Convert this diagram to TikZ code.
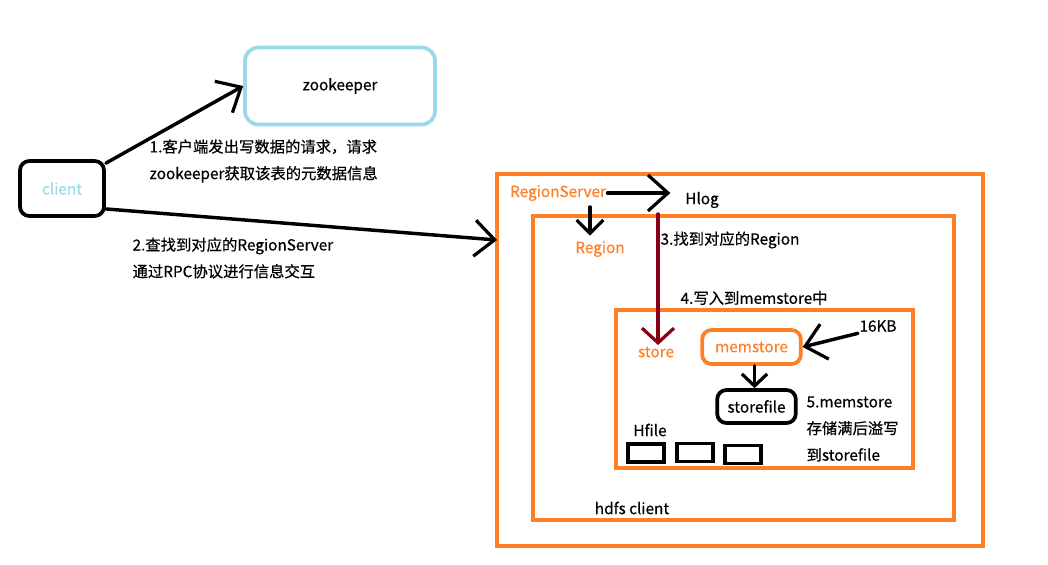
\documentclass[tikz,border=0pt]{standalone}
\usepackage{fontspec}
\setmainfont{Noto Sans CJK SC}[FakeBold=0.5]
\usepackage{xcolor}
\usepackage{tikz}
\usetikzlibrary{arrows.meta}
\definecolor{hborange}{RGB}{255,127,39}
\definecolor{hbblue}{RGB}{153,217,234}
\definecolor{hbred}{RGB}{136,0,21}
\tikzset{
    every node/.style={font=\fontsize{11.5}{14}\selectfont, inner sep=1pt},
    arr/.style={-{Straight Barb[length=15pt,width=27pt,line width=2.4pt]}, line width=2.6pt, line cap=round},
    rbox/.style={draw, line width=2.8pt, rounded corners=7pt},
    obox/.style={draw=hborange, line width=2.8pt},
    hfbox/.style={draw, line width=2.8pt, minimum width=27pt, minimum height=13.5pt}}

\begin{document}
\begin{tikzpicture}[x=0.75pt,y=-0.75pt]
\useasboundingbox (0,0) rectangle (1048,564);

% client und zookeeper
\node[rbox, draw=hbblue, minimum width=142.5pt, minimum height=57.75pt, rounded corners=10pt] (zk) at (340,86) {zookeeper};
\node[rbox, minimum width=63pt, minimum height=41.25pt, text=hbblue] (client) at (62,188.5) {client};

% RegionServer boxes
\coordinate (o1) at (497,174);
\coordinate (o2) at (983,546);
\draw[obox] (o1) rectangle (o2);
\coordinate (m1) at (533,216);
\coordinate (m2) at (954,520);
\draw[obox] (m1) rectangle (m2);
\coordinate (i1) at (616,310);
\coordinate (i2) at (913,468);
\draw[obox] (i1) rectangle (i2);
\coordinate (rsin) at (497,240);

\draw[arr] (client.30) -- (zk.west);
\draw[arr] (client.-25) -- (rsin);

\node[anchor=west, align=left] (step1) at (148,161) {1.客户端发出写数据的请求，请求\\[6pt]zookeeper获取该表的元数据信息};
\node[anchor=west, align=left] (step2) at (131,258) {2.查找到对应的RegionServer\\[6pt]通过RPC协议进行信息交互};

\node[text=hborange] (rs) at (558,193) {RegionServer};
\node (hlog) at (702,200) {Hlog};
\node[text=hborange] (region) at (600,249) {Region};
\node[text=hborange] (store) at (656,352) {store};

\draw[arr] (rs.east) -- (rs.east -| hlog.west) [shorten >=10pt];
\coordinate (rsdn) at (590,207);
\draw[arr, -{Straight Barb[length=10pt,width=20pt,line width=2.4pt]}] (rsdn) -- (rsdn |- region.north) [shorten >=3pt];
\coordinate (hlogdn) at (658,214);
\draw[arr, draw=hbred, -{Straight Barb[length=11pt,width=24pt,line width=2.4pt]}] (hlogdn) -- (hlogdn |- store.north);

\node[anchor=west] (step3) at (659,240) {3.找到对应的Region};
\node[anchor=west] (step4) at (679,298) {4.写入到memstore中};

% memstore und storefile
\node[rbox, draw=hborange, text=hborange, minimum width=74pt, minimum height=25.5pt] (mem) at (751.5,347) {memstore};
\node (kb) at (878,326) {16KB};
\draw[arr] (kb.south west) -- (mem.east);
\node[rbox, minimum width=59pt, minimum height=24.75pt] (sf) at (756.5,406.5) {storefile};
\draw[arr, -{Straight Barb[length=9pt,width=19pt,line width=2.4pt]}] (mem.south -| sf.north) ++(-2,0) coordinate (memdn) -- (memdn |- sf.north);

\node[anchor=west, align=left] (step5) at (805,429) {5.memstore\\[6pt]存储满后溢写\\[6pt]到storefile};

\node (hfile) at (650,430) {Hfile};
\foreach \x/\y [count=\i] in {646/453, 695/452.5, 743/454.5}
  \node[hfbox] (hf\i) at (\x,\y) {};

\node (hdfs) at (632,508) {hdfs client};
\end{tikzpicture}
\end{document}
